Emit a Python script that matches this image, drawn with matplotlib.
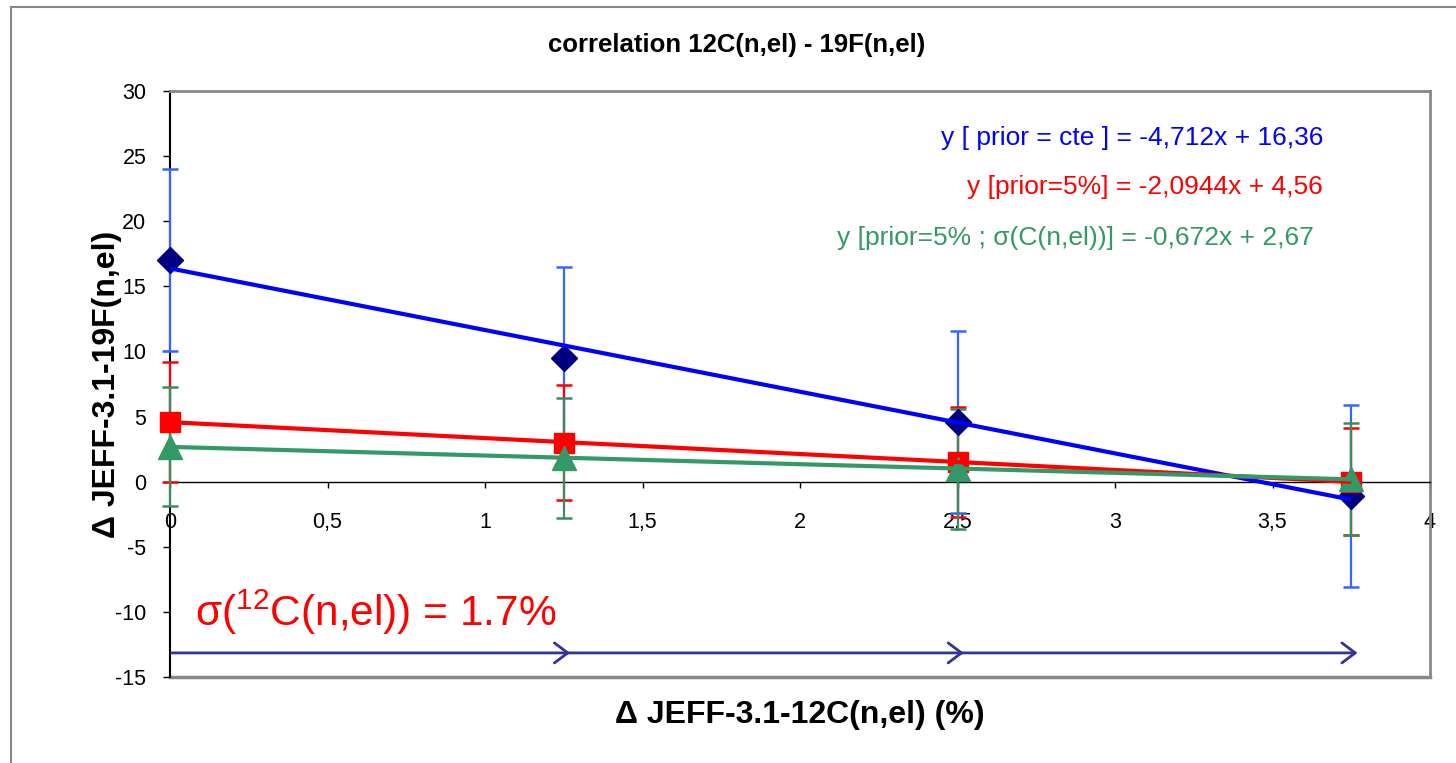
import matplotlib
matplotlib.use("Agg")
import matplotlib.pyplot as plt
from matplotlib.lines import Line2D
import numpy as np

plt.rcParams['font.family'] = ['Liberation Sans', 'DejaVu Sans']
plt.rcParams['mathtext.default'] = 'regular'

# data
x = [0, 1.25, 2.5, 3.75]
y_cte = [17.0, 9.5, 4.6, -1.1]
err_cte = [7.0, 7.0, 7.0, 7.0]
y_5 = [4.6, 3.0, 1.5, 0.0]
err_5 = [4.6, 4.4, 4.2, 4.1]
y_5s = [2.7, 1.8, 1.0, 0.2]
err_5s = [4.6, 4.6, 4.6, 4.3]

eq_labels = ['y [ prior = cte ] = -4,712x + 16,36',
             'y [prior=5%] = -2,0944x + 4,56',
             'y [prior=5% ; σ(C(n,el))] = -0,672x + 2,67']

arrow_from = [0, 1.25, 2.5]
arrow_to = [1.25, 2.5, 3.75]

xticks = [0, 0.5, 1, 1.5, 2, 2.5, 3, 3.5, 4]
yticks = [-15, -10, -5, 0, 5, 10, 15, 20, 25, 30]

fig = plt.figure(figsize=(14.56, 7.63), dpi=100)
ax = fig.add_axes([170/1456, 1 - 677/763, 1260/1456, 586/763])

series = [
    (y_cte, err_cte, 'D', 13, '#000080', '#3366FF', '#0000FF'),
    (y_5, err_5, 's', 14, '#FF0000', '#FF0000', '#FF0000'),
    (y_5s, err_5s, '^', 17, '#339966', '#3A8C5E', '#339966'),
]

# series: error bars + markers
for ys, es, mk, ms, mc, ec, lc in series:
    eb = ax.errorbar(x, ys, yerr=es, fmt='none', ecolor=ec, elinewidth=1.6,
                     capsize=5.5, capthick=1.8, zorder=3)
    for art in eb.get_children():
        art.set_clip_on(False)
    ax.plot(x, ys, mk, color=mc, markersize=ms, zorder=4, clip_on=False)

# linear trendlines fitted to each series
for ys, es, mk, ms, mc, ec, lc in series:
    m, b = np.polyfit(x, ys, 1)
    ax.plot([x[0], x[-1]], [b + m * x[0], b + m * x[-1]], color=lc, lw=3, zorder=5,
            solid_capstyle='butt', clip_on=False)

# equations
eq_colors = ['#0000FF', '#FF0000', '#339966']
eq_x = [3.66, 3.66, 3.63]
eq_y = [26.4, 22.6, 18.7]
for t, c, ex, ey in zip(eq_labels, eq_colors, eq_x, eq_y):
    ax.text(ex, ey, t, color=c, fontsize=19, ha='right', va='center')

# arrows
for a, b in zip(arrow_from, arrow_to):
    ax.annotate('', xy=(b + 0.02, -13.15), xytext=(a + 0.005, -13.15),
                arrowprops=dict(arrowstyle='->,head_length=0.6,head_width=0.45',
                                color='#333399', lw=2, shrinkA=0, shrinkB=0,
                                mutation_scale=16))

ax.text(0.08, -10.0, 'σ($^{12}$C(n,el)) = 1.7%', color='#FF0000', fontsize=30.5,
        ha='left', va='center')

ax.set_xlim(0, 4)
ax.set_ylim(-15, 30)
ax.set_xticks(xticks)
ax.set_yticks(yticks)
ax.set_xticklabels([('%g' % v).replace('.', ',') for v in xticks])
ax.set_yticklabels(['%g' % v for v in yticks])
ax.tick_params(axis='y', direction='out', length=5, width=1, labelsize=15.5, pad=12)
ax.tick_params(axis='x', direction='out', length=4, width=1, labelsize=15.5, pad=18)

ax.spines['bottom'].set_position(('data', 0))
ax.spines['bottom'].set_color('black')
ax.spines['bottom'].set_linewidth(1)
ax.spines['left'].set_color('black')
ax.spines['left'].set_linewidth(1.5)
for s in ['top', 'right']:
    ax.spines[s].set_color('#888888')
    ax.spines[s].set_linewidth(2)
ax.plot([0, 1], [0, 0], transform=ax.transAxes, color='#888888', lw=2.5,
        clip_on=False, zorder=1)

ax.set_xlabel('Δ JEFF-3.1-12C(n,el) (%)', fontsize=23, fontweight='bold', labelpad=0)
ax.xaxis.set_label_coords(0.5, -0.04)
ax.set_ylabel('Δ JEFF-3.1-19F(n,el)', fontsize=23, fontweight='bold')
ax.yaxis.set_label_coords(-0.038, 0.5)

fig.text(737/1456, 1 - 45/763, 'correlation 12C(n,el) - 19F(n,el)', fontsize=18.5,
         fontweight='bold', ha='center', va='center')

# outer chart frame (left and top visible)
fig.add_artist(Line2D([11/1456, 11/1456], [0, 1 - 7/763], color='#888888', lw=1.5))
fig.add_artist(Line2D([11/1456, 1], [1 - 7/763, 1 - 7/763], color='#888888', lw=1.5))

fig.savefig('out.png', dpi=100)
